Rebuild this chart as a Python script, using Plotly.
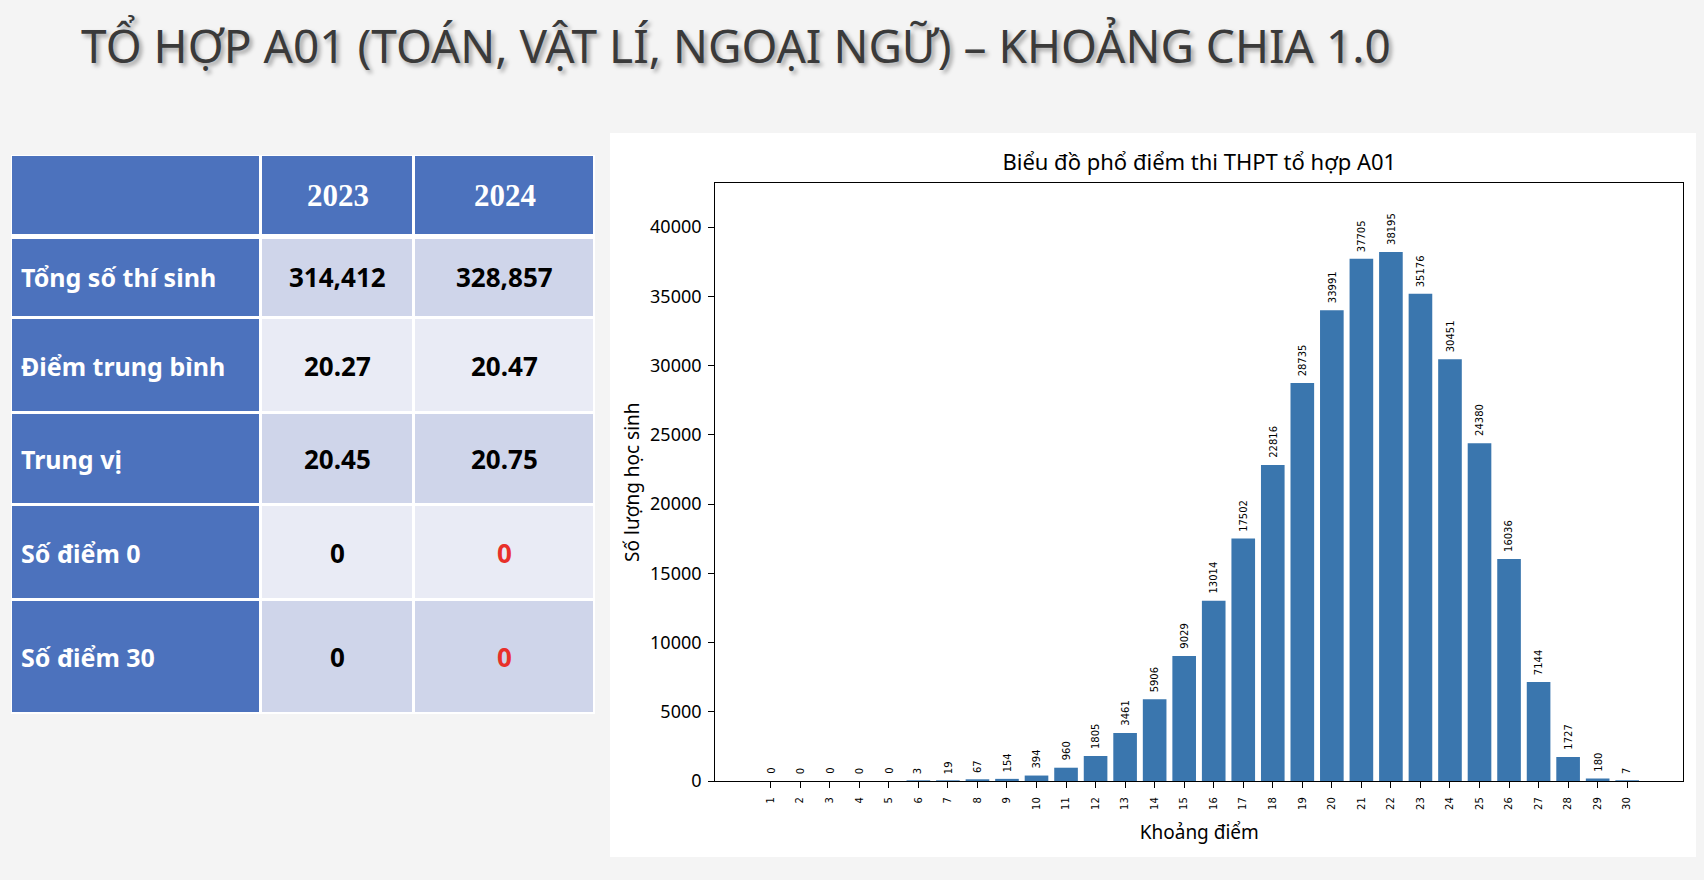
import plotly.graph_objects as go

# ---------------- data ----------------
score_bins = list(range(1, 31))
student_counts = [0, 0, 0, 0, 0, 3, 19, 67, 154, 394, 960, 1805, 3461, 5906, 9029,
                  13014, 17502, 22816, 28735, 33991, 37705, 38195, 35176, 30451,
                  24380, 16036, 7144, 1727, 180, 7]
y_ticks = [0, 5000, 10000, 15000, 20000, 25000, 30000, 35000, 40000]

table_years = ["2023", "2024"]
table_rows = ["Tổng số thí sinh", "Điểm trung bình", "Trung vị", "Số điểm 0", "Số điểm 30"]
values_2023 = ["314,412", "20.27", "20.45", "0", "0"]
values_2024 = ["328,857", "20.47", "20.75", "0", "0"]
highlight_2024 = [False, False, False, True, True]

page_title = "TỔ HỢP A01 (TOÁN, VẬT LÍ, NGOẠI NGỮ) – KHOẢNG CHIA 1.0"
chart_title = "Biểu đồ phổ điểm thi THPT tổ hợp A01"
x_title = "Khoảng điểm"
y_title = "Số lượng học sinh"

# ---------------- style / layout constants ----------------
W, H = 1704, 880
BG = "#f4f4f4"
BAR = "#3a76ae"
BLUE = "#4c72bd"
DARK_CELL = "#cfd5ea"
LIGHT_CELL = "#e9ebf5"
RED = "#e8302a"

# table geometry (pixels inside the table box)
T_LEFT, T_TOP, T_RIGHT, T_BOTTOM = 11, 155, 595, 714
col_edges = [0, 250, 403, 584]
row_edges = [0, 81.5, 163, 258, 350, 445, 559]

# chart geometry (pixels)
P_LEFT, P_RIGHT, P_TOP, P_BOTTOM = 715.3, 1683.3, 183.3, 781
CARD = (610, 133, 1696, 857)


def px(x):
    return x / W


def py(y):
    return 1 - y / H


fig = go.Figure()

# ---------- bar chart ----------
fig.add_trace(go.Bar(
    x=score_bins, y=student_counts, width=0.8,
    marker=dict(color=BAR, line=dict(width=0)),
    hoverinfo="x+y", showlegend=False,
    xaxis="x", yaxis="y",
))

# ---------- table as heatmap on hidden axes ----------
z = [[0, 0, 0]]
for i in range(len(table_rows)):
    shade = 1 if i % 2 == 0 else 2
    z.append([0, shade, shade])

fig.add_trace(go.Heatmap(
    x=col_edges, y=row_edges, z=z, zmin=0, zmax=2,
    colorscale=[[0, BLUE], [0.5, DARK_CELL], [1, LIGHT_CELL]],
    showscale=False, xgap=3, ygap=3, hoverinfo="skip",
    xaxis="x2", yaxis="y2",
))

annotations = []

# bar value labels
for xv, yv in zip(score_bins, student_counts):
    annotations.append(dict(
        x=xv, y=yv, xref="x", yref="y", text=str(yv), showarrow=False,
        textangle=-90, xanchor="center", yanchor="bottom", yshift=5,
        font=dict(family="DejaVu Sans", size=10, color="black"),
    ))


def center(edges, i):
    return (edges[i] + edges[i + 1]) / 2

# header
for j, yr in enumerate(table_years):
    annotations.append(dict(
        x=center(col_edges, j + 1), y=center(row_edges, 0), xref="x2", yref="y2",
        text="<b>%s</b>" % yr, showarrow=False, xanchor="center", yanchor="middle",
        font=dict(family="Liberation Serif", size=31, color="white"),
    ))
# rows
for i, lab in enumerate(table_rows):
    yc = center(row_edges, i + 1)
    annotations.append(dict(
        x=col_edges[0] + 8, y=yc, xref="x2", yref="y2", text="<b>%s</b>" % lab,
        showarrow=False, xanchor="left", yanchor="middle",
        font=dict(family="Noto Sans", size=25, color="white"),
    ))
    annotations.append(dict(
        x=center(col_edges, 1), y=yc, xref="x2", yref="y2", text="<b>%s</b>" % values_2023[i],
        showarrow=False, xanchor="center", yanchor="middle",
        font=dict(family="Noto Sans", size=26, color="black"),
    ))
    annotations.append(dict(
        x=center(col_edges, 2), y=yc, xref="x2", yref="y2", text="<b>%s</b>" % values_2024[i],
        showarrow=False, xanchor="center", yanchor="middle",
        font=dict(family="Noto Sans", size=26, color=RED if highlight_2024[i] else "black"),
    ))

# page title with shadow
annotations.append(dict(
    x=px(79), y=py(45), xref="paper", yref="paper", text=page_title,
    showarrow=False, xanchor="left", yanchor="middle",
    font=dict(family="Noto Sans", size=46, color="#3a3a3a",
              shadow="3px 3px 4px rgba(0,0,0,0.35)"),
))

shapes = [
    # chart card
    dict(type="rect", xref="paper", yref="paper", x0=px(CARD[0]), x1=px(CARD[2]),
         y0=py(CARD[3]), y1=py(CARD[1]), fillcolor="white", line=dict(width=0), layer="below"),
    # table white backing
    dict(type="rect", xref="x2", yref="y2", x0=col_edges[0] - 1, x1=col_edges[-1] + 1,
         y0=row_edges[0] - 1, y1=row_edges[-1] + 1, fillcolor="white", line=dict(width=0),
         layer="below"),
    # thicker separator under the header
    dict(type="line", xref="x2", yref="y2", x0=col_edges[0], x1=col_edges[-1],
         y0=row_edges[1], y1=row_edges[1], line=dict(color="white", width=5), layer="above"),
]

axis_line = dict(showline=True, mirror=True, linecolor="black", linewidth=1.3,
                 showgrid=False, zeroline=False, ticks="outside", ticklen=6,
                 tickwidth=1.3, tickcolor="black", automargin=False)

fig.update_layout(
    width=W, height=H, margin=dict(l=0, r=0, t=0, b=0, autoexpand=False),
    paper_bgcolor=BG, plot_bgcolor="white",
    title=dict(text=chart_title, x=(P_LEFT + P_RIGHT) / 2 / W, xref="paper",
               y=py(162), yref="paper", xanchor="center", yanchor="middle",
               font=dict(family="Noto Sans", size=22, color="black")),
    xaxis=dict(domain=[px(P_LEFT), px(P_RIGHT)], range=[-0.876, 31.9],
               tickvals=score_bins, ticktext=[str(s) for s in score_bins], tickangle=-90,
               tickfont=dict(family="DejaVu Sans", size=10, color="black"),
               ticklabelstandoff=5,
               title=dict(text=x_title, font=dict(family="Noto Sans", size=19, color="black"),
                          standoff=16),
               anchor="y", **axis_line),
    yaxis=dict(domain=[py(P_BOTTOM), py(P_TOP)], range=[0, 43160],
               tickvals=y_ticks, ticktext=[str(v) for v in y_ticks],
               tickfont=dict(family="Noto Sans", size=18, color="black"),
               ticklabelstandoff=3,
               title=dict(text=y_title, font=dict(family="Noto Sans", size=19, color="black"),
                          standoff=5),
               anchor="x", **axis_line),
    xaxis2=dict(domain=[px(T_LEFT), px(T_RIGHT)], range=[col_edges[0], col_edges[-1]],
                visible=False, anchor="y2", fixedrange=True),
    yaxis2=dict(domain=[py(T_BOTTOM), py(T_TOP)], range=[row_edges[-1], row_edges[0]],
                visible=False, anchor="x2", fixedrange=True),
    annotations=annotations, shapes=shapes,
    bargap=0.2, showlegend=False,
)

fig.write_html("out.html")
